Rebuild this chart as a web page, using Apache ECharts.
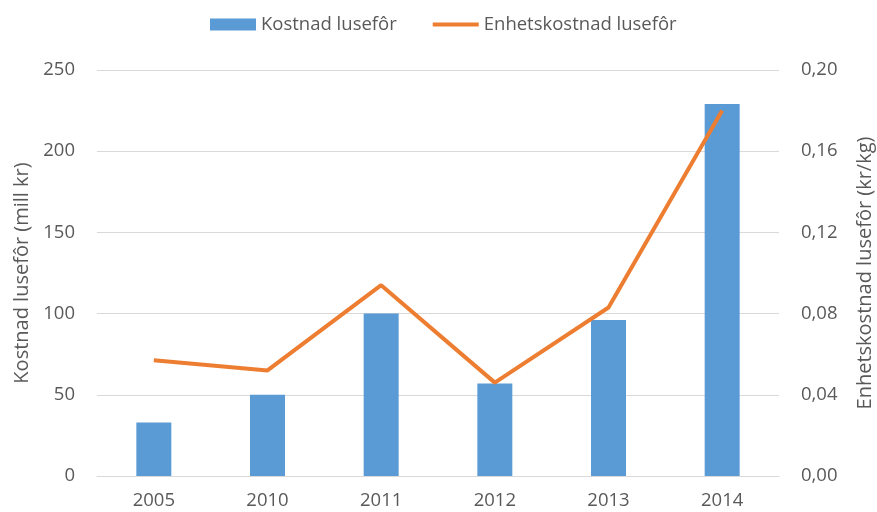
<html>
<head>
    <meta charset="UTF-8">
    <title>Kostnad lusefôr</title>
    <style type="text/css">
        body{ margin:0; background:#fff; }
        #main{ width:877px; height:512px; }
    </style>
</head>
<body>
    <div id="main"></div>
</body>
<script src="https://cdn.jsdelivr.net/npm/echarts@6/dist/echarts.min.js"></script>
<script type="text/javascript">
    var years = ['2005', '2010', '2011', '2012', '2013', '2014'];
    var kostnad = [33, 50, 100, 57, 96, 229];            // mill kr
    var enhetskostnad = [0.057, 0.052, 0.094, 0.046, 0.083, 0.180];  // kr/kg

    var textColor = '#595959';
    var fontName = 'Open Sans';

    var option = {
        textStyle: { fontFamily: fontName },
        legend: {
            left: 205,
            top: 10,
            itemWidth: 46,
            itemHeight: 12,
            itemGap: 36,
            textStyle: { color: textColor, fontSize: 18.5, fontFamily: fontName },
            data: [
                { name: 'Kostnad lusefôr', icon: 'rect' },
                { name: 'Enhetskostnad lusefôr', icon: 'path://M0,0 L46,0 L46,4 L0,4 Z' }
            ]
        },
        grid: { left: 97, right: 98, top: 70, bottom: 36, containLabel: false, outerBoundsMode: 'none' },
        xAxis: {
            type: 'category',
            data: years,
            axisTick: { show: false },
            axisLine: { lineStyle: { color: '#d9d9d9', width: 1 } },
            axisLabel: { color: textColor, fontSize: 18.5, margin: 15 }
        },
        yAxis: [{
            type: 'value',
            min: 0, max: 250, interval: 50,
            name: 'Kostnad lusefôr (mill kr)',
            nameLocation: 'middle',
            nameRotate: 90,
            nameGap: 64,
            nameTextStyle: { color: textColor, fontSize: 20 },
            axisLine: { show: false },
            axisTick: { show: false },
            axisLabel: { color: textColor, fontSize: 18.5, margin: 22 },
            splitLine: { lineStyle: { color: '#d9d9d9', width: 1 } }
        }, {
            type: 'value',
            min: 0, max: 0.2, interval: 0.04,
            name: 'Enhetskostnad lusefôr (kr/kg)',
            nameLocation: 'middle',
            nameRotate: 90,
            nameGap: 76,
            nameTextStyle: { color: textColor, fontSize: 20 },
            axisLine: { show: false },
            axisTick: { show: false },
            axisLabel: {
                color: textColor, fontSize: 18.5, margin: 22,
                formatter: function (v) { return v.toFixed(2).replace('.', ','); }
            },
            splitLine: { show: false }
        }],
        series: [{
            name: 'Kostnad lusefôr',
            type: 'bar',
            barWidth: 35,
            data: kostnad,
            itemStyle: { color: '#5B9BD5' }
        }, {
            name: 'Enhetskostnad lusefôr',
            type: 'line',
            yAxisIndex: 1,
            data: enhetskostnad,
            symbol: 'none',
            lineStyle: { color: '#ED7D31', width: 4 },
            itemStyle: { color: '#ED7D31' }
        }],
        animation: false
    };

    var myChart = echarts.init(document.getElementById('main'));
    myChart.setOption(option);
</script>
</html>
